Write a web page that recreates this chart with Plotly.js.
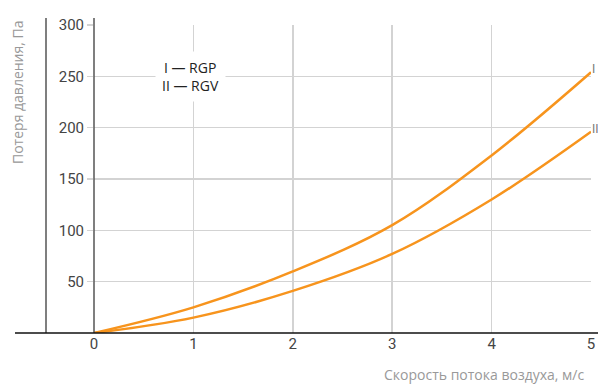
<!DOCTYPE html>
<html><head><meta charset="utf-8">
<script src="https://cdn.plot.ly/plotly-3.0.1.min.js"></script>
<style>html,body{margin:0;padding:0;background:#fff;}#chart{width:598px;height:385px;}</style>
</head><body><div id="chart"></div>
<script>
const speed = [0, 1, 2, 3, 4, 5];
const rgp = [0, 25, 60, 105, 173, 254];
const rgv = [0, 15, 41, 77, 130, 196];
const xTicks = [0, 1, 2, 3, 4, 5];
const yTicks = [50, 100, 150, 200, 250, 300];
const seriesLabels = ['I', 'II'];
const legendText = 'I — RGP<br>II — RGV';
const xTitle = 'Скорость потока воздуха, м/с';
const yTitle = 'Потеря давления, Па';

const orange = '#F7941D';
const fontFam = '"Liberation Sans Narrow", Roboto, sans-serif';

const traces = [
  {x: speed, y: rgp, mode: 'lines', line: {color: orange, width: 2.5, shape: 'spline'}, hoverinfo: 'skip'},
  {x: speed, y: rgv, mode: 'lines', line: {color: orange, width: 2.5, shape: 'spline'}, hoverinfo: 'skip'}
];

const layout = {
  width: 598, height: 385,
  margin: {l: 94, r: 7, t: 25, b: 52},
  paper_bgcolor: '#fff', plot_bgcolor: '#fff',
  showlegend: false,
  font: {family: fontFam, size: 14, color: '#333'},
  xaxis: {
    range: [0, 5], tickvals: xTicks, ticktext: xTicks.map(String),
    showgrid: true, gridcolor: '#d3d3d3', gridwidth: 1.5,
    zeroline: false, showline: false, ticks: '', ticklen: 0,
    tickfont: {family: fontFam, size: 15, color: '#444'}
  },
  yaxis: {
    range: [0, 300], tickvals: yTicks, ticktext: yTicks.map(String),
    showgrid: true, gridcolor: '#d3d3d3', gridwidth: 1.5,
    zeroline: false, showline: false,
    ticks: 'outside', ticklen: 6, tickcolor: '#d3d3d3', tickwidth: 1.5,
    tickfont: {family: fontFam, size: 15, color: '#444'}
  },
  shapes: [
    {type: 'line', xref: 'paper', yref: 'paper', x0: 0, x1: 0, y0: 0, y1: 1 + 7/308, line: {color: '#555', width: 1.5}},
    {type: 'line', xref: 'paper', yref: 'paper', x0: -48/497, x1: -48/497, y0: 0, y1: 1 + 7/308, line: {color: '#555', width: 1.5}},
    {type: 'line', xref: 'paper', yref: 'paper', x0: -79/497, x1: 1.02, y0: 0, y1: 0, line: {color: '#111', width: 1.5}}
  ],
  annotations: [
    {xref: 'paper', yref: 'paper', x: 96/497, y: 1 - 52/308, text: legendText, showarrow: false,
     align: 'center', xanchor: 'center', yanchor: 'middle', bgcolor: '#fff', borderpad: 6,
     font: {family: 'Open Sans, sans-serif', size: 14, color: '#222'}},
    {xref: 'paper', yref: 'y', x: 1, y: rgp[rgp.length - 1] + 3, text: seriesLabels[0], showarrow: false,
     xanchor: 'left', xshift: 0, borderpad: 0, font: {family: fontFam, size: 12, color: '#777'}},
    {xref: 'paper', yref: 'y', x: 1, y: rgv[rgv.length - 1] + 3, text: seriesLabels[1], showarrow: false,
     xanchor: 'left', xshift: 0, borderpad: 0, font: {family: fontFam, size: 12, color: '#777'}},
    {xref: 'paper', yref: 'paper', x: 289/497, y: -41/308, text: xTitle, showarrow: false, borderpad: 0,
     xanchor: 'left', yanchor: 'middle', font: {family: 'Open Sans, sans-serif', size: 14, color: '#999'}},
    {xref: 'paper', yref: 'paper', x: -76/497, y: 1 - 67/308, text: yTitle, showarrow: false, textangle: -90,
     xanchor: 'center', yanchor: 'middle', font: {family: 'Open Sans, sans-serif', size: 14, color: '#999'}}
  ]
};

Plotly.newPlot('chart', traces, layout, {displayModeBar: false, staticPlot: true});
</script>
</body></html>
